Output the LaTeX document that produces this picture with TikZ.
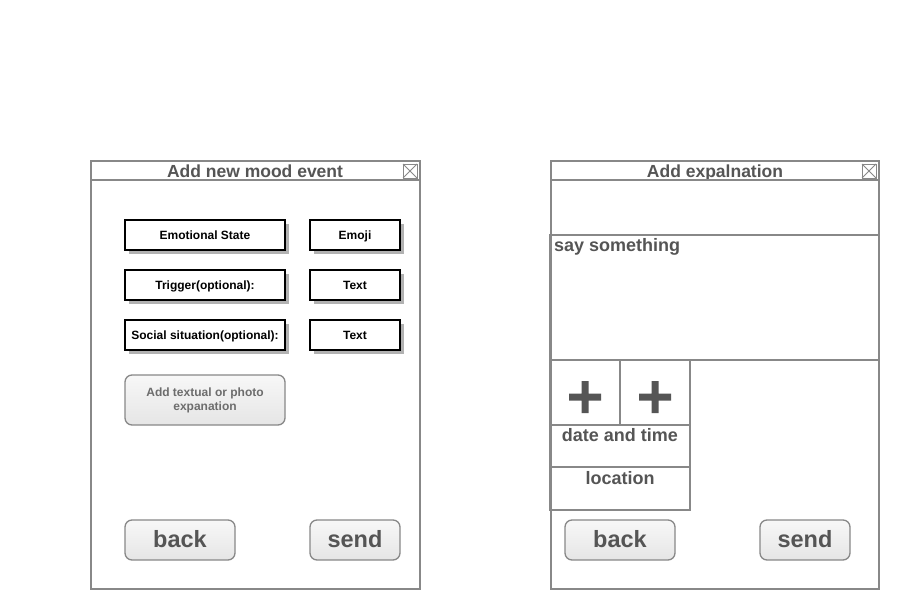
\documentclass[tikz,border=0pt]{standalone}
\usepackage{fontspec}
\setmainfont{Liberation Sans}
\usetikzlibrary{shadows}
\definecolor{wgray}{HTML}{888888}
\definecolor{tgray}{HTML}{555555}
\tikzset{
  win/.style={draw=wgray, line width=1.5pt, fill=white},
  field/.style={text height=9pt, text depth=2.6pt, draw=black, line width=1.8pt, fill=white, font=\bfseries\fontsize{12}{13}\selectfont, inner sep=0pt,
     drop shadow={shadow xshift=4pt, shadow yshift=-4pt, fill=black!30, opacity=1}},
  btn/.style={draw=wgray, line width=1.3pt, rounded corners=7pt, top color=white!97!black, bottom color=white!90!black, text=tgray, inner sep=0pt},
  bigbtn/.style={btn, text height=20pt, text depth=5pt, minimum height=40, font=\bfseries\fontsize{23.5}{25}\selectfont},
  cell/.style={draw=wgray, line width=1.3pt},
  ttl/.style={text height=12.8pt, text depth=3.8pt, inner sep=0pt, text=tgray, font=\bfseries\fontsize{17.5}{19}\selectfont},
  lbl/.style={text=tgray, font=\bfseries\fontsize{18}{19}\selectfont},
  plussign/.style={fill=tgray, draw=none},
}
\begin{document}
\begin{tikzpicture}[x=1pt,y=-1pt]
\useasboundingbox (0,0) rectangle (900,610);
% left window
\draw[win] (91,161) rectangle (420,589);
\draw[draw=wgray, line width=1.5pt] (91,180) -- (420,180);
\node[ttl] (ltitle) at (255,172.5) {Add new mood event};
\draw[draw=wgray, line width=1pt] (403,164) rectangle (417,178);
\draw[draw=wgray, line width=1pt] (403,164) -- (417,178) (417,164) -- (403,178);
% fields
\node[field, minimum width=160, minimum height=30] (emo) at (205,235) {\raisebox{-1pt}{Emotional State}};
\node[field, minimum width=90, minimum height=30] (emoji) at (355,235) {\raisebox{-1pt}{Emoji}};
\node[field, minimum width=160, minimum height=30] (trig) at (205,285) {\raisebox{-1pt}{Trigger(optional):}};
\node[field, minimum width=90, minimum height=30] (text1) at (355,285) {\raisebox{-1pt}{Text}};
\node[field, minimum width=160, minimum height=30] (soc) at (205,335) {\raisebox{-1pt}{Social situation(optional):}};
\node[field, minimum width=90, minimum height=30] (text2) at (355,335) {\raisebox{-1pt}{Text}};
\node[btn, minimum width=160, minimum height=50, text=wgray!80!black, align=center, font=\bfseries\fontsize{12}{14}\selectfont] (addexp) at (205,400) {Add textual or photo\\expanation};
\node[bigbtn, minimum width=110] (lback) at (180,540) {back};
\node[bigbtn, minimum width=90] (lsend) at (355,540) {send};
% right window
\draw[win] (551,161) rectangle (879,589);
\draw[draw=wgray, line width=1.5pt] (551,180) -- (879,180);
\node[ttl] (rtitle) at (715,172.5) {Add expalnation};
\draw[draw=wgray, line width=1pt] (862,164) rectangle (876,178);
\draw[draw=wgray, line width=1pt] (862,164) -- (876,178) (876,164) -- (862,178);
\draw[cell] (551,180) rectangle (879,235);
\draw[cell] (550,235) rectangle (879,360);
\node[lbl, anchor=north west, inner sep=0pt] (saytxt) at (554,238) {say something};
\draw[cell] (550,360) rectangle (620,425);
\draw[cell] (620,360) rectangle (690,425);
\fill[plussign] (581.5,381) rectangle (588.5,413) (569,393.5) rectangle (601,400.5);
\fill[plussign] (651.5,381) rectangle (658.5,413) (639,393.5) rectangle (671,400.5);
\draw[cell] (550,425) rectangle (690,467);
\node[lbl, anchor=north, inner sep=0pt] (dttxt) at (620,428) {date and time};
\draw[cell] (550,467) rectangle (690,510);
\node[lbl, anchor=north, inner sep=0pt] (loctxt) at (620,471) {location};
\node[bigbtn, minimum width=110] (rback) at (620,540) {back};
\node[bigbtn, minimum width=90] (rsend) at (805,540) {send};
\end{tikzpicture}
\end{document}
